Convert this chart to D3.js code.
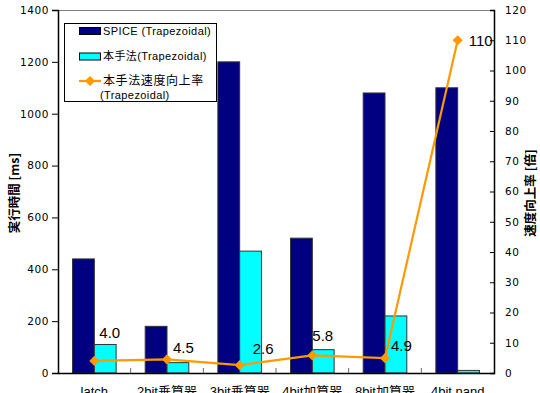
<!DOCTYPE html>
<html>
<head>
<meta charset="utf-8">
<script src="https://cdn.jsdelivr.net/npm/d3@7"></script>
<style>
  html, body { margin: 0; padding: 0; background: #fff; }
  svg { display: block; }
  text { font-family: "Liberation Sans", "Noto Sans CJK JP", sans-serif; fill: #000; }
</style>
</head>
<body>
<svg id="chart" width="540" height="393"></svg>
<script>
// Circuits
const categories = ["latch", "2bit乗算器", "3bit乗算器", "4bit加算器", "8bit加算器", "4bit nand"];
// Simulation time [ms]
const spiceTimes = [440, 180, 1200, 520, 1080, 1100];
const proposedTimes = [110, 40, 470, 90, 220, 10];
// Speed-up ratio [x]
const speedup = [4.0, 4.5, 2.6, 5.8, 4.9, 110];
const speedupLabels = ["4.0", "4.5", "2.6", "5.8", "4.9", "110"];
// Axis ticks
const leftTicks = [0, 200, 400, 600, 800, 1000, 1200, 1400];
const rightTicks = [0, 10, 20, 30, 40, 50, 60, 70, 80, 90, 100, 110, 120];
// Series names
const seriesNames = ["SPICE (Trapezoidal)", "本手法(Trapezoidal)"];
const lineName = ["本手法速度向上率", "(Trapezoidal)"];

// Nudges for the value labels, relative to their points
const labelNudge = [[5, -28], [6, -12], [13, -17], [0, -20], [6, -13], [11, 0]];

const navy = "#000080", cyan = "#00FFFF", orange = "#FF9900";
const plot = { left: 58, right: 494, top: 10, bottom: 373 };

const svg = d3.select("#chart");

const x = d3.scaleBand().domain(categories).range([plot.left, plot.right]).padding(0);
const sub = d3.scaleBand().domain([0, 1]).range([x.bandwidth() * 0.2, x.bandwidth() * 0.8]).padding(0);
const yL = d3.scaleLinear().domain([0, 1400]).range([plot.bottom, plot.top]);
const yR = d3.scaleLinear().domain([0, 120]).range([plot.bottom, plot.top]);

// top frame line
svg.append("line")
  .attr("x1", plot.left).attr("x2", plot.right)
  .attr("y1", plot.top + 0.5).attr("y2", plot.top + 0.5)
  .attr("stroke", "#808080").attr("stroke-width", 1);

// bars
const series = [spiceTimes, proposedTimes];
const colors = [navy, cyan];
series.forEach((vals, si) => {
  svg.append("g").selectAll("rect")
    .data(vals)
    .join("rect")
    .attr("x", (d, i) => x(categories[i]) + sub(si))
    .attr("y", d => yL(d))
    .attr("width", sub.bandwidth())
    .attr("height", d => yL(0) - yL(d))
    .attr("fill", colors[si])
    .attr("stroke", "#333")
    .attr("stroke-width", 1);
});

// left axis
const axL = svg.append("g")
  .attr("transform", `translate(${plot.left},0)`)
  .call(d3.axisLeft(yL).tickValues(leftTicks).tickSize(6).tickPadding(3).tickFormat(d3.format("d")));
axL.select(".domain").attr("stroke", "#000").attr("stroke-width", 1.5);
axL.selectAll(".tick line").attr("stroke", "#000");
axL.selectAll(".tick text")
  .style("font-family", "'DejaVu Sans', sans-serif")
  .style("font-size", "10.5px")
  .style("letter-spacing", "0.6px");

// right axis
const axR = svg.append("g")
  .attr("transform", `translate(${plot.right},0)`)
  .call(d3.axisRight(yR).tickValues(rightTicks).tickSizeInner(-4).tickSizeOuter(-4).tickPadding(11));
axR.select(".domain").attr("stroke", "#000").attr("stroke-width", 1.5);
axR.selectAll(".tick line").attr("stroke", "#000");
axR.selectAll(".tick text")
  .style("font-family", "'DejaVu Sans', sans-serif")
  .style("font-size", "10.5px")
  .style("letter-spacing", "0.6px");

// bottom axis
const axB = svg.append("g")
  .attr("transform", `translate(0,${plot.bottom})`)
  .call(d3.axisBottom(x).tickSize(0).tickPadding(14));
axB.select(".domain").attr("stroke", "#000").attr("stroke-width", 1.5);
axB.selectAll(".tick text")
  .style("font-size", "13px")
  .attr("dy", "0.71em");
// category separators
svg.append("g").selectAll("line")
  .data(categories.slice(1))
  .join("line")
  .attr("x1", d => x(d)).attr("x2", d => x(d))
  .attr("y1", plot.bottom).attr("y2", plot.bottom - 5)
  .attr("stroke", "#666").attr("stroke-width", 1);

// speed-up line
const cx = (d, i) => x(categories[i]) + x.bandwidth() / 2;
const line = d3.line().x(cx).y(d => yR(d));
svg.append("path")
  .datum(speedup)
  .attr("d", line)
  .attr("fill", "none")
  .attr("stroke", orange)
  .attr("stroke-width", 2.2);

const diamond = d3.symbol().type(d3.symbolSquare).size(52);
svg.append("g").selectAll("path")
  .data(speedup)
  .join("path")
  .attr("d", diamond)
  .attr("transform", (d, i) => `translate(${cx(d, i)},${yR(d)}) rotate(45)`)
  .attr("fill", orange);

// value labels
svg.append("g").selectAll("text")
  .data(speedup)
  .join("text")
  .attr("x", (d, i) => cx(d, i) + labelNudge[i][0])
  .attr("y", (d, i) => yR(d) + labelNudge[i][1])
  .attr("dy", "0.36em")
  .style("font-size", "15px")
  .text((d, i) => speedupLabels[i]);

// axis titles
svg.append("text")
  .attr("transform", `translate(19,193) rotate(-90)`)
  .attr("text-anchor", "middle")
  .style("font-family", "'Noto Sans CJK JP', sans-serif")
  .style("font-size", "12.5px")
  .style("font-weight", "bold")
  .text("実行時間 [ms]");
svg.append("text")
  .attr("transform", `translate(535,193) rotate(-90)`)
  .attr("text-anchor", "middle")
  .style("font-family", "'Noto Sans CJK JP', sans-serif")
  .style("font-size", "12.5px")
  .style("font-weight", "bold")
  .text("速度向上率 [倍]");

// legend
const lg = svg.append("g");
lg.append("rect")
  .attr("x", 64.5).attr("y", 23.5).attr("width", 152).attr("height", 78)
  .attr("fill", "#fff").attr("stroke", "#000").attr("stroke-width", 1);
const swY = [31, 56.5];
seriesNames.forEach((name, i) => {
  lg.append("rect")
    .attr("x", 79.5).attr("y", swY[i] - 3.5).attr("width", 21).attr("height", 7)
    .attr("fill", colors[i]).attr("stroke", "#000").attr("stroke-width", 1);
  lg.append("text")
    .attr("x", 103).attr("y", swY[i]).attr("dy", "0.36em")
    .style("font-size", "11px").style("letter-spacing", "0.4px")
    .text(name);
});
lg.append("line")
  .attr("x1", 79).attr("x2", 101).attr("y1", 81).attr("y2", 81)
  .attr("stroke", orange).attr("stroke-width", 2.2);
lg.append("path")
  .attr("d", diamond)
  .attr("transform", "translate(90,81) rotate(45)")
  .attr("fill", orange);
lg.append("text")
  .attr("x", 103).attr("y", 81).attr("dy", "0.36em")
  .style("font-family", "'Noto Sans CJK JP', sans-serif")
  .style("font-size", "12px").style("letter-spacing", "0.6px")
  .text(lineName[0]);
lg.append("text")
  .attr("x", 100).attr("y", 95).attr("dy", "0.36em")
  .style("font-size", "11px").style("letter-spacing", "0.4px")
  .text(lineName[1]);
</script>
</body>
</html>
